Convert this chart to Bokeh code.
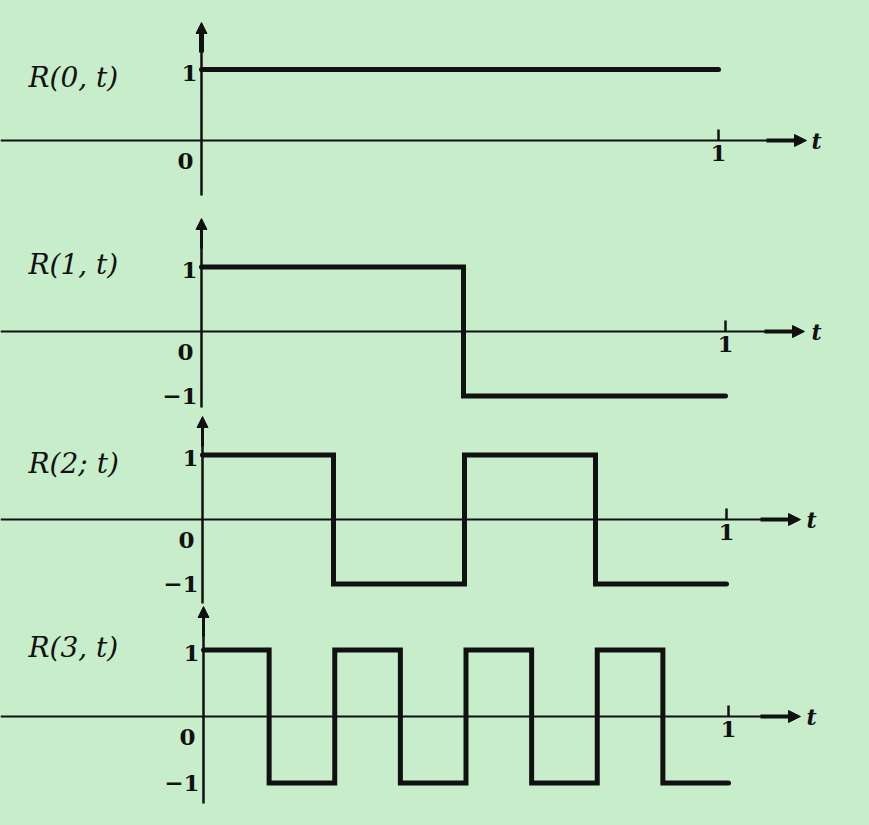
from bokeh.plotting import figure
from bokeh.layouts import column
from bokeh.models import Range1d, Arrow, NormalHead
from bokeh.core.properties import value
from bokeh.embed import file_html
from bokeh.resources import INLINE

BG = "#C7EDCB"
INK = "#111111"
SERIF = value("DejaVu Serif")

# ---- data ----
func_labels = ["R(0, t)", "R(1, t)", "R(2; t)", "R(3, t)"]
breaks = [
    [0, 1],
    [0, 0.5, 1],
    [0, 0.25, 0.5, 0.75, 1],
    [0, 0.125, 0.25, 0.375, 0.5, 0.625, 0.75, 0.875, 1],
]
levels = [
    [1],
    [1, -1],
    [1, -1, 1, -1],
    [1, -1, 1, -1, 1, -1, 1, -1],
]
ytick_values = [[1, 0], [1, 0, -1], [1, 0, -1], [1, 0, -1]]
ytick_labels = [["1", "0"], ["1", "0", "\u22121"], ["1", "0", "\u22121"], ["1", "0", "\u22121"]]
xtick_value = 1
xtick_label = "1"
x_axis_label = "t"

# ---- layout (page pixels; the layout is drawn from the page origin) ----
ORIGIN = 0
W = 861
panels = [
    dict(top=0, h=208, zero=140, scale=71.0, t0=201, t1=718, ax_top=22, ax_bot=195, arr=806, tl=816, ly=77),
    dict(top=208, h=205, zero=331, scale=64.5, t0=201, t1=725, ax_top=218, ax_bot=407, arr=804, tl=816, ly=264),
    dict(top=413, h=191, zero=519, scale=64.5, t0=202, t1=726, ax_top=416, ax_bot=603, arr=800, tl=811, ly=463),
    dict(top=604, h=213, zero=716, scale=66.5, t0=203, t1=728, ax_top=606, ax_bot=803, arr=800, tl=811, ly=647),
]
# pixel offsets of y tick labels relative to their level (down = positive)
ytick_dy = {1: 3, 0: 20, -1: 0}

figs = []
for k, L in enumerate(panels):
    s = L["t1"] - L["t0"]
    X = lambda px, L=L, s=s: (px - L["t0"]) / s
    Y = lambda px, L=L: (L["zero"] - px) / L["scale"]
    dy = lambda d, L=L: d / L["scale"]

    p = figure(width=W, height=L["h"], output_backend="svg", toolbar_location=None,
               x_range=Range1d(X(ORIGIN), X(ORIGIN + W)), y_range=Range1d(Y(L["top"] + L["h"]), Y(L["top"])),
               x_axis_location=None, y_axis_location=None, min_border=0,
               background_fill_color=BG, border_fill_color=BG)
    p.grid.visible = False
    p.outline_line_color = None

    # horizontal axis
    p.segment(x0=[X(0)], y0=[0], x1=[X(L["arr"] - 30)], y1=[0], line_color=INK, line_width=2.2)
    p.add_layout(Arrow(end=NormalHead(size=12, fill_color=INK, line_color=INK, line_width=1),
                       x_start=X(L["arr"] - 40), y_start=0, x_end=X(L["arr"]), y_end=0,
                       line_color=INK, line_width=4))
    p.text(x=[X(L["tl"])], y=[0], text=[x_axis_label], text_font=SERIF, text_font_style="bold italic",
           text_font_size="22px", text_align="center", text_baseline="middle", text_color=INK)

    # x tick "1"
    p.segment(x0=[xtick_value], y0=[dy(11)], x1=[xtick_value], y1=[0], line_color=INK, line_width=2.5)
    p.text(x=[xtick_value], y=[-dy(12)], text=[xtick_label], text_font=SERIF, text_font_style="bold",
           text_font_size="23px", text_align="center", text_baseline="middle", text_color=INK)

    # vertical axis
    p.segment(x0=[0], y0=[Y(L["ax_bot"])], x1=[0], y1=[Y(L["ax_top"] + 20)], line_color=INK, line_width=2.5)
    p.add_layout(Arrow(end=NormalHead(size=11, fill_color=INK, line_color=INK, line_width=1),
                       x_start=0, y_start=Y(L["ax_top"] + 30), x_end=0, y_end=Y(L["ax_top"]),
                       line_color=INK, line_width=5 if k == 0 else 3))

    # y tick labels
    for v, lab in zip(ytick_values[k], ytick_labels[k]):
        p.text(x=[X(L["t0"] - 4) if v != 0 else X(L["t0"] - 8)], y=[v - dy(ytick_dy[v])], text=[lab],
               text_font=SERIF, text_font_style="bold", text_font_size="23px",
               text_align="right", text_baseline="middle", text_color=INK)

    # function label
    p.text(x=[X(28)], y=[Y(L["ly"])], text=[func_labels[k]], text_font=SERIF, text_font_style="italic",
           text_font_size="28px", text_align="left", text_baseline="middle", text_color=INK)

    # the signal
    xs = breaks[k]
    ys = levels[k] + [levels[k][-1]]
    p.step(x=xs, y=ys, mode="after", line_color=INK, line_width=5, line_join="miter", line_cap="round")

    figs.append(p)

layout = column(*figs, spacing=0, styles={"background-color": BG})

html = file_html(layout, INLINE)
html = html.replace("<head>", "<head><style>html, body { background: %s; }</style>" % BG, 1)
open("out.html", "w").write(html)
